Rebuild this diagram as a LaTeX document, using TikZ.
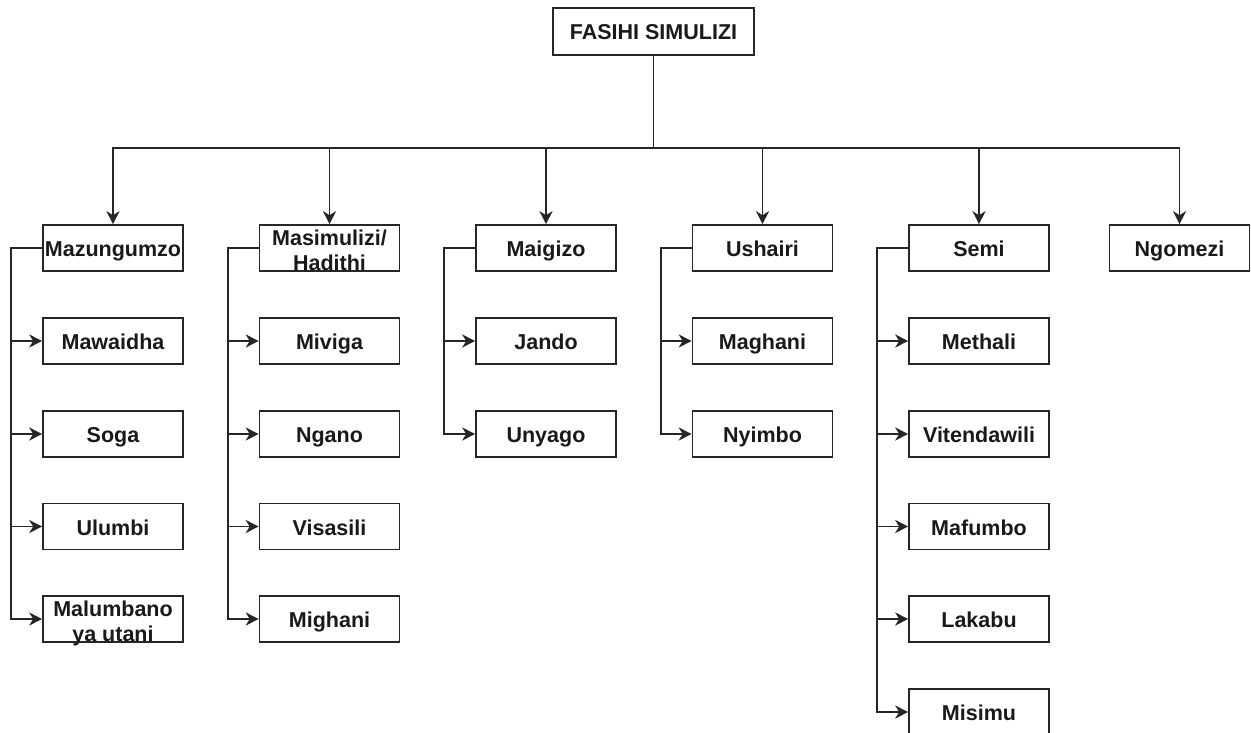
\documentclass[tikz,border=0pt]{standalone}
\usepackage{fontspec}
\setmainfont{Liberation Sans}
\usetikzlibrary{arrows.meta}
% two centred lines stacked in one box, baseline on the lower line
\newcommand\twolines[2]{\vbox{\halign{\hfil##\hfil\cr#1\cr#2\cr}}}
\begin{document}
\begin{tikzpicture}[x=1pt,y=-1pt,
  box/.style={draw=black!85, line width=1.6pt, minimum width=140pt, minimum height=46pt,
    inner sep=0pt, text=black!90, text height=17pt, text depth=0pt,
    font=\fontsize{21.5}{25}\selectfont\bfseries},
  twoline/.style={box, text height=44pt, text depth=0pt},
  link/.style={draw=black!85, line width=1.6pt, -{Stealth[length=13pt,width=13pt,inset=4pt]}}]
\useasboundingbox (0,0) rectangle (1251,733);

% root
\node[box, minimum width=201pt, minimum height=47pt] (root) at (653.5,31.5) {FASIHI SIMULIZI};

% main branches
\node[box]     (mz) at (113,248)    {Mazungumzo};
\node[twoline] (ms) at (329.5,248)  {\twolines{Masimulizi/}{Hadithi}};
\node[box]     (mg) at (546,248)    {Maigizo};
\node[box]     (us) at (762.5,248)  {Ushairi};
\node[box]     (se) at (979,248)    {Semi};
\node[box]     (ng) at (1179.5,248) {Ngomezi};

\foreach \c in {mz,ms,mg,us,se,ng}
  \draw[link] (root.south) -- ++(0,92) -| (\c.north);

% Mazungumzo
\node[box]     (mz1) at (113,341)   {Mawaidha};
\node[box]     (mz2) at (113,434)   {Soga};
\node[box]     (mz3) at (113,526.5) {Ulumbi};
\node[twoline] (mz4) at (113,619)   {\twolines{Malumbano}{ya utani}};

% Masimulizi / Hadithi
\node[box] (ms1) at (329.5,341)   {Miviga};
\node[box] (ms2) at (329.5,434)   {Ngano};
\node[box] (ms3) at (329.5,526.5) {Visasili};
\node[box] (ms4) at (329.5,619)   {Mighani};

% Maigizo
\node[box] (mg1) at (546,341) {Jando};
\node[box] (mg2) at (546,434) {Unyago};

% Ushairi
\node[box] (us1) at (762.5,341) {Maghani};
\node[box] (us2) at (762.5,434) {Nyimbo};

% Semi
\node[box] (se1) at (979,341)   {Methali};
\node[box] (se2) at (979,434)   {Vitendawili};
\node[box] (se3) at (979,526.5) {Mafumbo};
\node[box] (se4) at (979,619)   {Lakabu};
\node[box] (se5) at (979,712)   {Misimu};

% side spines
\foreach \p/\kids in {mz/{mz1,mz2,mz3,mz4}, ms/{ms1,ms2,ms3,ms4},
                      mg/{mg1,mg2}, us/{us1,us2}, se/{se1,se2,se3,se4,se5}}
  \foreach \k in \kids
    \draw[link] (\p.west) -- ++(-31,0) |- (\k.west);
\end{tikzpicture}
\end{document}
